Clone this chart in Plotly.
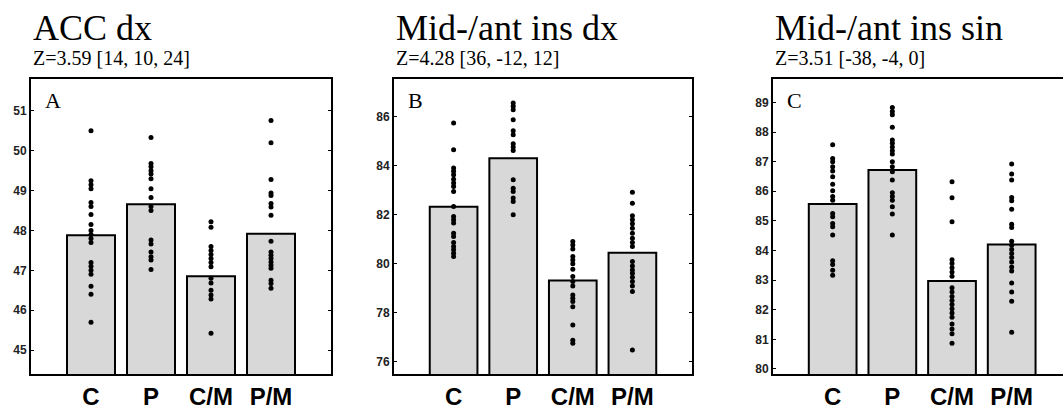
import plotly.graph_objects as go

W, H = 1063, 409

categories = ["C", "P", "C/M", "P/M"]

titles = ["ACC dx", "Mid-/ant ins dx", "Mid-/ant ins sin"]
subtitles = ["Z=3.59 [14, 10, 24]", "Z=4.28 [36, -12, 12]", "Z=3.51 [-38, -4, 0]"]
panel_letters = ["A", "B", "C"]

# Panel A (ACC dx)
a_means = [47.88, 48.66, 46.85, 47.92]
a_C = [50.5, 49.25, 49.15, 49.05, 48.7, 48.6, 48.4, 48.15, 48.0, 47.9, 47.8, 47.7,
       47.2, 47.1, 47.0, 46.9, 46.6, 46.4, 45.7]
a_P = [50.33, 49.68, 49.6, 49.5, 49.42, 49.3, 49.05, 48.83, 48.6, 48.5, 47.76, 47.66,
       47.46, 47.34, 47.26, 47.02]
a_CM = [48.22, 48.08, 47.6, 47.5, 47.4, 47.3, 47.2, 47.09, 46.8, 46.68, 46.5, 46.38,
        46.28, 45.42]
a_PM = [50.76, 50.2, 49.28, 48.94, 48.88, 48.68, 48.59, 48.38, 47.73, 47.46, 47.38,
        47.3, 47.21, 47.13, 47.05, 46.75, 46.67, 46.55]
a_ticks = [45, 46, 47, 48, 49, 50, 51]

# Panel B (Mid-/ant ins dx)
b_means = [82.31, 84.29, 79.31, 80.44]
b_C = [85.73, 84.64, 83.89, 83.76, 83.62, 83.44, 83.28, 83.14, 82.94, 82.33, 81.92,
       81.78, 81.65, 81.24, 81.1, 80.86, 80.69, 80.56, 80.42, 80.29]
b_P = [86.54, 86.41, 86.27, 85.86, 85.41, 85.25, 84.88, 84.75, 84.61, 83.41, 83.07,
       82.94, 82.67, 82.53, 81.99]
b_CM = [80.9, 80.76, 80.59, 80.29, 80.15, 79.99, 79.77, 79.47, 79.27, 79.09, 78.72,
        78.59, 78.45, 78.24, 77.5, 76.88, 76.75]
b_PM = [82.91, 82.46, 81.95, 81.78, 81.62, 81.44, 81.24, 81.03, 80.86, 80.69, 80.08,
        79.9, 79.74, 79.61, 79.44, 79.27, 79.09, 78.86, 76.48]
b_ticks = [76, 78, 80, 82, 84, 86]

# Panel C (Mid-/ant ins sin)
c_means = [85.57, 86.72, 82.97, 84.20]
c_C = [87.57, 87.11, 87.0, 86.83, 86.68, 86.49, 86.24, 86.02, 85.82, 85.7, 85.25,
       85.14, 84.91, 84.8, 84.52, 83.65, 83.53, 83.33, 83.16]
c_P = [88.83, 88.69, 88.58, 88.16, 87.73, 87.62, 87.49, 87.37, 87.26, 87.0, 86.83,
       86.66, 86.38, 85.95, 85.82, 85.7, 85.48, 85.23, 84.52]
c_CM = [86.32, 85.78, 84.97, 83.69, 83.56, 83.42, 83.27, 83.13, 82.74, 82.6, 82.45,
        82.31, 82.18, 82.03, 81.89, 81.75, 81.52, 81.35, 81.19, 80.87]
c_PM = [86.92, 86.58, 86.38, 85.79, 85.68, 85.39, 84.89, 84.78, 84.31, 84.18, 84.03,
        83.9, 83.76, 83.61, 83.44, 83.31, 82.9, 82.6, 82.29, 81.24]
c_ticks = [80, 81, 82, 83, 84, 85, 86, 87, 88, 89]

panels = [
    dict(means=a_means, pts=[a_C, a_P, a_CM, a_PM], ticks=a_ticks, yr=[44.4, 51.8],
         xr=[0, 5], dom=[31, 331]),
    dict(means=b_means, pts=[b_C, b_P, b_CM, b_PM], ticks=b_ticks, yr=[75.5, 87.52],
         xr=[0, 5], dom=[394, 692]),
    dict(means=c_means, pts=[c_C, c_P, c_CM, c_PM], ticks=c_ticks, yr=[79.83, 89.79],
         xr=[0, 4.86], dom=[773, 1063]),
]

Y_TOP, Y_BOT = 79, 374


def px(x):
    return x / W


def py(y):
    return 1 - y / H


fig = go.Figure()
layout = dict(
    width=W, height=H, margin=dict(l=0, r=0, t=0, b=0, autoexpand=False),
    paper_bgcolor="white", plot_bgcolor="white", showlegend=False,
)
annotations = []
xpos = [1, 2, 3, 4]

for i, p in enumerate(panels):
    n = i + 1
    xa = "x" if n == 1 else f"x{n}"
    ya = "y" if n == 1 else f"y{n}"
    base = p["yr"][0] - 1
    fig.add_trace(go.Bar(
        x=xpos, y=[m - base for m in p["means"]], base=base, width=0.8,
        marker=dict(color="#d8d8d8", line=dict(color="black", width=2)),
        xaxis=xa, yaxis=ya, hoverinfo="skip",
    ))
    xs, ys = [], []
    for k, vals in enumerate(p["pts"]):
        xs += [xpos[k]] * len(vals)
        ys += vals
    fig.add_trace(go.Scatter(
        x=xs, y=ys, mode="markers",
        marker=dict(color="black", size=5, line=dict(width=0)),
        xaxis=xa, yaxis=ya, hoverinfo="skip",
    ))
    mirror_y = "ticks" if n < 3 else False
    layout["xaxis" if n == 1 else f"xaxis{n}"] = dict(
        domain=[px(p["dom"][0]), min(1.0, px(p["dom"][1]))], range=p["xr"],
        tickvals=xpos, ticktext=categories, ticks="",
        showgrid=False, zeroline=False,
        showline=True, linecolor="black", linewidth=2, mirror=True,
        tickfont=dict(family="Liberation Sans", size=24, color="black", weight="bold"),
        anchor=ya, fixedrange=True, automargin=False,
    )
    layout["yaxis" if n == 1 else f"yaxis{n}"] = dict(
        domain=[py(Y_BOT), py(Y_TOP)], range=p["yr"], tickvals=p["ticks"],
        ticks="inside", ticklen=3, tickwidth=1, tickcolor="black",
        showgrid=False, zeroline=False,
        showline=True, linecolor="black", linewidth=2, mirror=mirror_y,
        tickfont=dict(family="Liberation Sans", size=12, color="#222222", weight="bold"),
        anchor=xa, fixedrange=True, automargin=False,
    )
    left = p["dom"][0]
    annotations.append(dict(
        text=titles[i], xref="paper", yref="paper", x=px(left), y=py(28),
        xanchor="left", yanchor="middle", showarrow=False,
        font=dict(family="Liberation Serif", size=36, color="black"),
    ))
    annotations.append(dict(
        text=subtitles[i], xref="paper", yref="paper", x=px(left), y=py(58),
        xanchor="left", yanchor="middle", showarrow=False,
        font=dict(family="Liberation Serif", size=20, color="black"),
    ))
    annotations.append(dict(
        text=panel_letters[i], xref="paper", yref="paper", x=px(left + 12), y=py(100),
        xanchor="left", yanchor="middle", showarrow=False,
        font=dict(family="Liberation Serif", size=22, color="black"),
    ))

layout["annotations"] = annotations
fig.update_layout(**layout)
fig.write_html("out.html")
